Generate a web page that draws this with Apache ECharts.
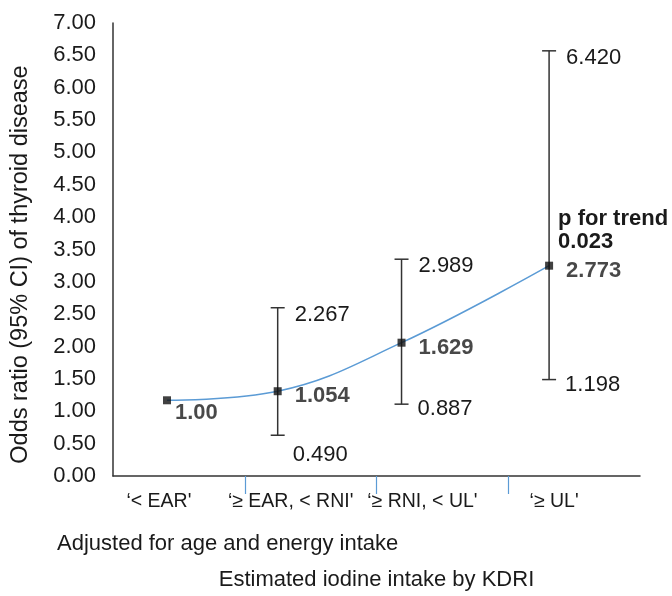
<!DOCTYPE html>
<html>
<head>
<meta charset="utf-8">
<script src="https://cdn.jsdelivr.net/npm/echarts@6/dist/echarts.min.js"></script>
<style>html,body{margin:0;padding:0;background:#fff}#c{width:672px;height:596px}</style>
</head>
<body>
<div id="c"></div>
<script>
// ---- data ----
var categories = ['\u2018< EAR\'', '\u2018\u2265 EAR, < RNI\'', '\u2018\u2265 RNI, < UL\'', '\u2018\u2265 UL\''];
var xPos = [0.41, 1.25, 2.19, 3.31];            // horizontal position of each estimate (category units)
var orPlot = [1.17, 1.31, 2.06, 3.25];          // plotted odds-ratio markers
var ciLowPlot = [null, 0.63, 1.11, 1.49];       // plotted lower whisker ends
var ciHighPlot = [null, 2.60, 3.35, 6.57];      // plotted upper whisker ends
var orText = ['1.00', '1.054', '1.629', '2.773'];
var ciLowText = ['', '0.490', '0.887', '1.198'];
var ciHighText = ['', '2.267', '2.989', '6.420'];
var trendText = 'p for trend';
var trendP = '0.023';
var yTicks = { min: 0, max: 7, step: 0.5 };
var yTitle = 'Odds ratio (95% CI) of thyroid disease';
var xTitle = 'Estimated iodine intake by KDRI';
var noteText = 'Adjusted for age and energy intake';

// ---- styling ----
var FONT = '"Liberation Sans", Arial, sans-serif';
var FS = 22;
var TXT = '#1a1a1a';
var AXIS = '#333';
var BLUE = '#5b9bd5';

var chart = echarts.init(document.getElementById('c'), null, { renderer: 'canvas' });

var errData = [];
xPos.forEach(function (x, i) {
  if (ciLowPlot[i] != null) errData.push([x, ciLowPlot[i], ciHighPlot[i], i, orPlot[i]]);
});

var option = {
  animation: false,
  backgroundColor: '#fff',
  title: {
    text: noteText, left: 57, top: 533, padding: 0,
    textStyle: { fontFamily: FONT, fontSize: FS, fontWeight: 'normal', color: TXT }
  },
  grid: { left: 113, right: 32, top: 23, bottom: 117, containLabel: false },
  xAxis: [
    {
      type: 'category', data: categories, position: 'bottom', boundaryGap: true,
      axisLine: { show: false }, axisTick: { show: false },
      axisLabel: { fontFamily: FONT, fontSize: 19.5, color: TXT, margin: 16, padding: [0, 40, 0, 0], interval: 0 },
      name: xTitle, nameLocation: 'middle', nameGap: 93,
      nameTextStyle: { fontFamily: FONT, fontSize: FS, color: TXT }
    },
    {
      type: 'value', min: 0, max: 4, interval: 4, position: 'bottom',
      axisLine: { show: true, lineStyle: { color: AXIS, width: 1.5 } },
      axisTick: { show: false }, axisLabel: { show: false }, splitLine: { show: false },
      minorTick: { show: true, splitNumber: 4, length: 18, lineStyle: { color: BLUE, width: 1.2 } }
    }
  ],
  yAxis: {
    type: 'value', min: yTicks.min, max: yTicks.max, interval: yTicks.step,
    axisLine: { show: true, lineStyle: { color: AXIS, width: 1.5 } },
    axisTick: { show: false }, splitLine: { show: false },
    axisLabel: { fontFamily: FONT, fontSize: FS, color: TXT, margin: 17,
      formatter: function (v) { return v.toFixed(2); } },
    name: yTitle, nameLocation: 'middle', nameGap: 80, nameRotate: 90,
    nameTextStyle: { fontFamily: FONT, fontSize: 23.5, color: TXT, padding: [0, 30, 0, 0] }
  },
  series: [
    {
      type: 'line', xAxisIndex: 1, smooth: 0.4, symbol: 'none',
      data: xPos.map(function (x, i) { return [x, orPlot[i]]; }),
      lineStyle: { color: BLUE, width: 1.5 }, z: 2
    },
    {
      type: 'custom', xAxisIndex: 1, z: 3,
      data: errData,
      renderItem: function (params, api) {
        var x = api.value(0), lo = api.value(1), hi = api.value(2), i = api.value(3), or = api.value(4);
        var pLo = api.coord([x, lo]), pHi = api.coord([x, hi]), pOr = api.coord([x, or]);
        var cap = 7;
        var ls = { stroke: AXIS, lineWidth: 1.5 };
        var txt = function (t, tx, ty, bold, va) {
          return { type: 'text', style: { text: t, x: tx, y: ty, fill: TXT, fontFamily: FONT, fontSize: FS,
            fontWeight: bold ? 'bold' : 'normal', align: 'left', verticalAlign: va || 'middle', lineHeight: 23 } };
        };
        var children = [
          { type: 'line', shape: { x1: pHi[0], y1: pHi[1], x2: pLo[0], y2: pLo[1] }, style: ls },
          { type: 'line', shape: { x1: pHi[0] - cap, y1: pHi[1], x2: pHi[0] + cap, y2: pHi[1] }, style: ls },
          { type: 'line', shape: { x1: pLo[0] - cap, y1: pLo[1], x2: pLo[0] + cap, y2: pLo[1] }, style: ls },
          txt(ciHighText[i], pHi[0] + 17, pHi[1] + 7, false)
        ];
        if (i === 1) children.push(txt(ciLowText[i], pLo[0] + 15, pLo[1] + 20, false));
        else children.push(txt(ciLowText[i], pLo[0] + 16, pLo[1] + 5, false));
        if (i === xPos.length - 1) children.push(txt(trendText + '\n' + trendP, pOr[0] + 9, pOr[1] - 12, true, 'bottom'));
        return { type: 'group', children: children };
      }
    },
    {
      type: 'scatter', xAxisIndex: 1, symbol: 'rect', symbolSize: 8, z: 4,
      itemStyle: { color: '#111' },
      data: xPos.map(function (x, i) {
        var d = { value: [x, orPlot[i]] };
        if (i === 0) d.label = { offset: [-9, 13] };
        return d;
      }),
      label: {
        show: true, position: 'right', distance: 13, offset: [0, 5],
        fontFamily: FONT, fontSize: FS, fontWeight: 'bold', color: TXT,
        formatter: function (p) { return orText[p.dataIndex]; }
      }
    }
  ]
};
chart.setOption(option);
</script>
</body>
</html>
